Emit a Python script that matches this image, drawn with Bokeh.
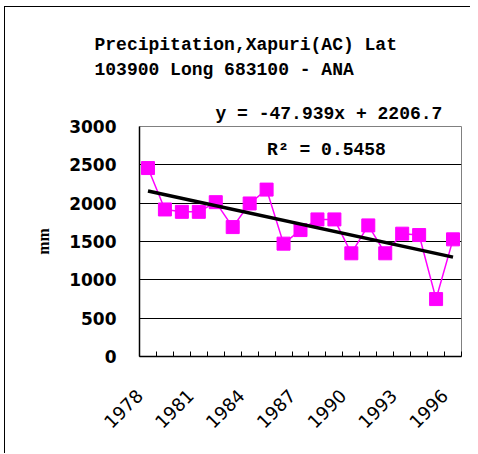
import math
from bokeh.plotting import figure
from bokeh.models import Label, FixedTicker, Range1d, Title, CustomJSTickFormatter
from bokeh.embed import file_html
from bokeh.resources import INLINE

years = list(range(1978, 1997))
precip = [2458, 1918, 1887, 1887, 2013, 1688, 1996, 2177, 1472, 1649,
          1788, 1788, 1346, 1710, 1346, 1602, 1584, 749, 1528]
trend_slope = -47.939
trend_intercept = 2206.7
year_tick_labels = [1978, 1981, 1984, 1987, 1990, 1993, 1996]
y_ticks = [0, 500, 1000, 1500, 2000, 2500, 3000]
title_lines = ["Precipitation,Xapuri(AC) Lat", "103900 Long 683100  - ANA"]
eq_text = "y = -47.939x + 2206.7"
r2_text = "R² = 0.5458"

LABEL_SHIFT = 0.49  # labels sit slightly left of their category

p = figure(width=466, height=447, output_backend="svg", toolbar_location=None,
           x_range=Range1d(years[0] - 0.5, years[-1] + 0.5), y_range=Range1d(0, 3000),
           min_border_left=134, min_border_right=10, min_border_top=119, min_border_bottom=98)
p.styles = {"margin-left": "4px", "margin-top": "6px",
            "border-left": "1px solid black", "border-top": "1px solid black"}
p.title = None

p.outline_line_color = "#808080"
p.outline_line_width = 1

# data line + markers
p.line(years, precip, line_color="#FF00FF", line_width=1.5)
p.scatter(years, precip, marker="square", size=13, fill_color="#FF00FF", line_color="#FF00FF")

# linear trend
idx = [1, len(years)]
tx = [years[0], years[-1]]
ty = [trend_slope * i + trend_intercept for i in idx]
p.line(tx, ty, line_color="black", line_width=3.5)

# axes
mono = "Liberation Mono"
p.xaxis.ticker = FixedTicker(ticks=[y - LABEL_SHIFT for y in year_tick_labels],
                             minor_ticks=[y - 0.5 for y in years] + [years[-1] + 0.5])
p.xaxis.formatter = CustomJSTickFormatter(code="return String(Math.round(tick + %s));" % LABEL_SHIFT)
p.xaxis.major_label_orientation = math.pi / 4
p.xaxis.major_label_text_font = "DejaVu Sans"
p.xaxis.major_label_text_font_size = "18px"
p.xaxis.major_label_text_color = "black"
p.xaxis.major_label_standoff = 30
p.xaxis.major_tick_line_color = None
p.xaxis.minor_tick_in = 5
p.xaxis.minor_tick_out = 0
p.xaxis.minor_tick_line_color = "black"
p.xaxis.axis_line_color = "black"
p.xaxis.axis_line_width = 1.5

p.yaxis.ticker = FixedTicker(ticks=y_ticks)
p.yaxis.major_label_text_font = "DejaVu Sans"
p.yaxis.major_label_text_font_style = "bold"
p.yaxis.major_label_text_font_size = "17px"
p.yaxis.major_label_text_color = "black"
p.yaxis.major_label_standoff = 17
p.yaxis.major_tick_line_color = None
p.yaxis.minor_tick_line_color = None
p.yaxis.axis_line_color = "black"
p.yaxis.axis_line_width = 1.5
p.yaxis.axis_label = "mm"
p.yaxis.axis_label_text_font = "Liberation Serif"
p.yaxis.axis_label_text_font_style = "bold"
p.yaxis.axis_label_text_font_size = "16px"
p.yaxis.axis_label_text_color = "black"
p.yaxis.axis_label_standoff = 14

p.xgrid.grid_line_color = None
p.ygrid.grid_line_color = "black"
p.ygrid.grid_line_width = 1

# titles (closest to the frame first)
p.add_layout(Title(text=eq_text, align="left", offset=76, standoff=6,
                   text_font=mono, text_font_style="bold", text_font_size="18px",
                   text_color="black"), "above")
p.add_layout(Title(text="\n".join(title_lines), align="left", offset=-45, standoff=38,
                   text_font=mono, text_font_style="bold", text_font_size="18px",
                   text_line_height=1.25, text_color="black"), "above")

p.add_layout(Label(x=320, y=141, x_units="canvas", y_units="canvas", text=r2_text,
                   text_font=mono, text_font_style="bold", text_font_size="18px",
                   text_align="center", text_baseline="middle", text_color="black"))

open("out.html", "w").write(file_html(p, INLINE))
